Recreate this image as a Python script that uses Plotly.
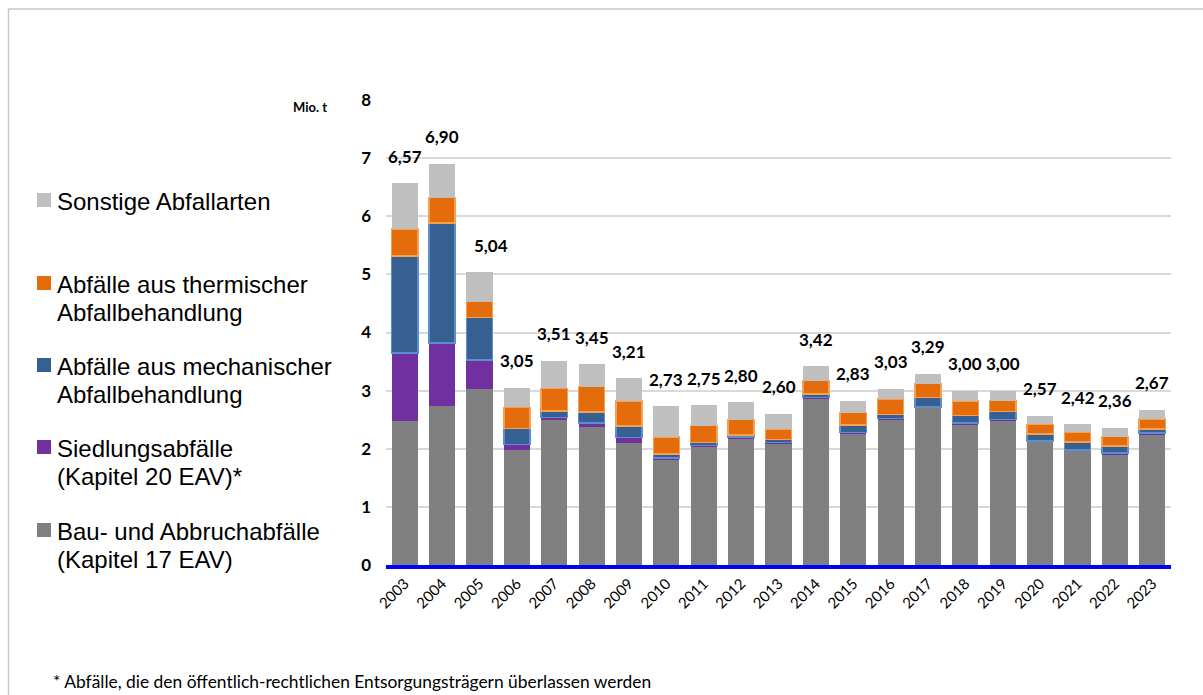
import plotly.graph_objects as go

# Jahre und Abfallmengen in Mio. t je Abfallart
years = [str(y) for y in range(2003, 2024)]

bau_abbruch = [2.48, 2.74, 3.03, 1.98, 2.51, 2.38, 2.10, 1.82, 2.04, 2.18, 2.09,
               2.87, 2.27, 2.51, 2.71, 2.42, 2.48, 2.12, 1.97, 1.90, 2.25]
siedlung = [1.17, 1.08, 0.50, 0.09, 0.03, 0.06, 0.09, 0.02, 0.02, 0.02, 0.02,
            0.01, 0.01, 0.01, 0.01, 0.02, 0.02, 0.01, 0.01, 0.03, 0.02]
mechanisch = [1.67, 2.06, 0.73, 0.28, 0.11, 0.19, 0.20, 0.07, 0.05, 0.04, 0.05,
              0.06, 0.13, 0.07, 0.16, 0.13, 0.14, 0.12, 0.14, 0.12, 0.07]
thermisch = [0.46, 0.44, 0.27, 0.36, 0.39, 0.44, 0.43, 0.29, 0.29, 0.26, 0.18,
             0.23, 0.21, 0.27, 0.24, 0.25, 0.19, 0.17, 0.16, 0.16, 0.17]
sonstige = [0.79, 0.58, 0.51, 0.34, 0.47, 0.38, 0.39, 0.53, 0.35, 0.30, 0.26,
            0.25, 0.21, 0.17, 0.17, 0.18, 0.17, 0.15, 0.14, 0.15, 0.16]

# Summenwerte, die über den Säulen stehen
totals = [6.57, 6.90, 5.04, 3.05, 3.51, 3.45, 3.21, 2.73, 2.75, 2.80, 2.60,
          3.42, 2.83, 3.03, 3.29, 3.00, 3.00, 2.57, 2.42, 2.36, 2.67]

y_ticks = [0, 1, 2, 3, 4, 5, 6, 7, 8]

series = [
    # (Werte, Legendentext-Zeilen, Füllfarbe, Randfarbe)
    (bau_abbruch, ["Bau- und Abbruchabfälle", "(Kapitel 17 EAV)"], "#808080", None),
    (siedlung, ["Siedlungsabfälle", "(Kapitel 20 EAV)*"], "#7030a0", None),
    (mechanisch, ["Abfälle aus mechanischer", "Abfallbehandlung"], "#376092", "#5b8fd0"),
    (thermisch, ["Abfälle aus thermischer", "Abfallbehandlung"], "#e46c0a", "#f7a050"),
    (sonstige, ["Sonstige Abfallarten"], "#bfbfbf", None),
]

W, H = 1203, 695
PL, PR, PT, PB = 386, 1171, 100, 565


def px_x(px):
    return (px - PL) / (PR - PL)


def px_y(py):
    return (PB - py) / (PB - PT)


fig = go.Figure()
for values, name_lines, color, edge in series:
    fig.add_trace(go.Bar(
        x=years, y=values, name=" ".join(name_lines),
        marker=dict(color=color,
                    line=dict(color=edge if edge else color, width=1.5 if edge else 0)),
        showlegend=False,
        hovertemplate="%{x}: %{y:.2f} Mio. t<extra></extra>",
    ))

annotations = []
shapes = []

# Summen über den Säulen (x als Kategorie-Index)
label_nudge = {"2005": 12}
for idx, (yr, tot) in enumerate(zip(years, totals)):
    annotations.append(dict(
        x=idx, y=tot, xref="x", yref="y",
        text="<b>" + f"{tot:.2f}".replace(".", ",") + "</b>",
        showarrow=False, yshift=27, xshift=label_nudge.get(yr, 0),
        xanchor="center", yanchor="middle",
        font=dict(family="Lato", size=17, color="#000000"),
    ))

# Einheit an der y-Achse
annotations.append(dict(
    x=px_x(329), y=px_y(107), xref="paper", yref="paper",
    text="<b>Mio. t</b>", showarrow=False, xanchor="right", yanchor="middle",
    font=dict(family="Lato", size=13, color="#000000"),
))

# Legende links neben dem Diagramm (oberster Eintrag = oberstes Segment)
legend_rows = [200, 283, 365, 447, 530]
for (values, name_lines, color, edge), row in zip(reversed(series), legend_rows):
    shapes.append(dict(
        type="rect", xref="paper", yref="paper",
        x0=px_x(37), x1=px_x(51), y0=px_y(row - 7), y1=px_y(row + 7),
        fillcolor=color, line=dict(width=0),
    ))
    for i, line in enumerate(name_lines):
        annotations.append(dict(
            x=px_x(55), y=px_y(row + 1 + i * 28.5), xref="paper", yref="paper",
            text=line, showarrow=False, xanchor="left", yanchor="middle",
            font=dict(family="Liberation Sans", size=24, color="#000000"),
        ))

# Fußnote
annotations.append(dict(
    x=px_x(51), y=px_y(681), xref="paper", yref="paper",
    text="* Abfälle, die den öffentlich-rechtlichen Entsorgungsträgern überlassen werden",
    showarrow=False, xanchor="left", yanchor="middle",
    font=dict(family="Lato", size=17.4, color="#000000"),
))

# Rahmen um die gesamte Grafik
shapes.append(dict(
    type="rect", xref="paper", yref="paper",
    x0=px_x(8.5), x1=px_x(1230), y0=px_y(9), y1=px_y(720),
    line=dict(color="#c8c8c8", width=1.5), fillcolor="rgba(0,0,0,0)", layer="below",
))

fig.update_layout(
    width=W, height=H,
    margin=dict(l=PL, r=W - PR, t=PT, b=H - PB),
    barmode="stack", bargap=0.30,
    plot_bgcolor="#ffffff", paper_bgcolor="#ffffff",
    font=dict(family="Lato", color="#000000"),
    annotations=annotations, shapes=shapes,
    xaxis=dict(
        type="category", tickangle=-45, showgrid=False,
        range=[-0.5, len(years) - 0.5],
        showline=True, linecolor="#0000ff", linewidth=4,
        ticks="", tickfont=dict(family="Lato", size=15, color="#000000"),
    ),
    yaxis=dict(
        range=[0, 8], tickvals=y_ticks, ticktext=[f"<b>{v}</b>" for v in y_ticks],
        showgrid=True, gridcolor="#d9d9d9", gridwidth=1.5, zeroline=False,
        showline=False, ticks="", ticklabelstandoff=14,
        tickfont=dict(family="Lato", size=17, color="#000000"),
    ),
)

fig.write_html("out.html")
